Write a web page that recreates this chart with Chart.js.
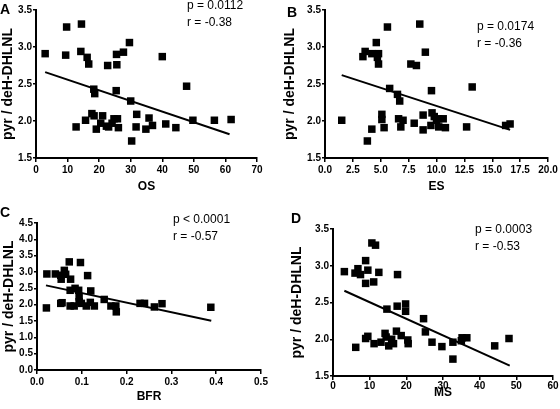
<!DOCTYPE html>
<html>
<head>
<meta charset="utf-8">
<script src="https://cdn.jsdelivr.net/npm/chart.js@4/dist/chart.umd.min.js"></script>
<style>
  html, body { margin: 0; padding: 0; background: #fff; }
  #wrap { position: relative; width: 560px; height: 409px; overflow: hidden; font-family: "Liberation Sans", Arial, sans-serif; }
  canvas { position: absolute; }
</style>
</head>
<body>
<div id="wrap">
  <canvas id="cA" width="280" height="200" style="left:0px;top:0px"></canvas>
  <canvas id="cB" width="280" height="200" style="left:280px;top:0px"></canvas>
  <canvas id="cC" width="280" height="209" style="left:0px;top:200px"></canvas>
  <canvas id="cD" width="280" height="209" style="left:280px;top:200px"></canvas>
</div>
<script>
// ---- Data ----
const yTitle = "pyr / deH-DHLNL";
const panelLetters = ["A", "B", "C", "D"];
const pLabels = ["p = 0.0112", "p = 0.0174", "p < 0.0001", "p = 0.0003"];
const rLabels = ["r = -0.38", "r = -0.36", "r = -0.57", "r = -0.53"];

// Panel A: OS
const osX = [2.9, 9.7, 14.4, 9.4, 14.2, 16.2, 16.7, 22.7, 25.5, 27.7, 29.6, 25.6, 40.0, 47.7, 18.3, 18.6, 25.4, 30.0, 17.7, 18.4, 15.7, 12.7, 19.1, 21.1, 20.5, 22.3, 23.0, 24.7, 24.1, 25.8, 26.1, 31.9, 31.7, 30.3, 35.8, 34.8, 36.9, 41.1, 44.3, 49.7, 56.5, 61.8];
const osY = [2.91, 3.27, 3.31, 2.89, 2.94, 2.86, 2.77, 2.75, 2.90, 2.93, 3.06, 2.76, 2.87, 2.47, 2.43, 2.37, 2.41, 2.27, 2.10, 2.07, 2.01, 1.92, 1.89, 2.07, 1.97, 1.93, 1.92, 2.03, 1.97, 2.03, 1.91, 2.09, 1.92, 1.73, 2.04, 1.89, 1.94, 1.96, 1.91, 2.01, 2.01, 2.02];
const osFitX = [2.9, 61.3];
const osFitY = [2.66, 1.82];
const osTicks = [0, 10, 20, 30, 40, 50, 60, 70];

// Panel B: ES
const esX = [1.5, 3.8, 4.2, 3.4, 3.6, 4.2, 4.6, 4.7, 4.8, 4.8, 5.6, 5.8, 5.1, 5.1, 5.3, 6.5, 6.7, 6.6, 6.8, 7.0, 7.7, 8.2, 8.5, 9.0, 8.0, 8.8, 8.8, 9.55, 9.6, 9.5, 9.8, 10.0, 10.2, 10.2, 10.6, 10.8, 12.7, 13.2, 16.2, 16.6];
const esY = [2.01, 1.73, 1.89, 2.87, 2.94, 2.91, 3.06, 2.86, 2.91, 2.77, 3.27, 2.44, 2.09, 2.02, 1.91, 2.36, 2.27, 2.03, 1.92, 2.01, 2.77, 2.75, 3.31, 2.93, 1.97, 2.08, 1.88, 2.41, 2.11, 1.94, 2.06, 2.01, 1.92, 2.03, 2.03, 1.91, 1.92, 2.46, 1.94, 1.96];
const esFitX = [1.5, 16.6];
const esFitY = [2.62, 1.88];
const esTicks = [0, 2.5, 5, 7.5, 10, 12.5, 15, 17.5, 20];

// Panel C: BFR
const bfrX = [0.021, 0.022, 0.041, 0.053, 0.054, 0.061, 0.064, 0.053, 0.056, 0.072, 0.075, 0.074, 0.074, 0.085, 0.083, 0.093, 0.094, 0.094, 0.097, 0.099, 0.11, 0.113, 0.12, 0.119, 0.128, 0.15, 0.165, 0.176, 0.177, 0.23, 0.24, 0.262, 0.279, 0.388];
const bfrY = [1.90, 2.94, 2.94, 2.90, 2.78, 3.05, 2.93, 2.04, 2.06, 3.31, 2.78, 2.44, 1.96, 2.50, 1.96, 2.44, 2.24, 2.09, 3.29, 2.04, 1.96, 2.89, 2.42, 2.07, 1.96, 2.16, 1.96, 1.96, 1.78, 2.04, 2.04, 1.93, 2.03, 1.92];
const bfrFitX = [0.02, 0.389];
const bfrFitY = [2.59, 1.51];
const bfrTicks = [0, 0.1, 0.2, 0.3, 0.4, 0.5];

// Panel D: MS
const msX = [3.1, 6.2, 6.0, 6.8, 7.5, 8.9, 8.9, 9.5, 8.9, 9.5, 10.6, 11.6, 11.1, 11.2, 12.5, 13.1, 14.2, 14.5, 14.7, 15.2, 16.0, 16.5, 17.3, 17.5, 17.6, 18.6, 19.8, 19.8, 20.4, 20.5, 24.7, 25.2, 27.0, 29.7, 32.7, 32.7, 35.0, 35.2, 36.5, 44.1, 48.0];
const msY = [2.92, 1.89, 2.90, 2.96, 2.88, 2.76, 3.07, 2.94, 2.01, 2.04, 3.31, 3.28, 2.78, 1.94, 2.91, 1.96, 2.08, 2.03, 2.41, 1.91, 2.00, 1.94, 2.11, 2.45, 2.88, 2.05, 2.48, 2.38, 1.99, 1.94, 2.28, 2.10, 1.96, 1.90, 1.96, 1.73, 1.98, 2.02, 2.02, 1.91, 2.01];
const msFitX = [3.1, 48.2];
const msFitY = [2.66, 1.64];
const msTicks = [0, 10, 20, 30, 40, 50, 60];

const yTicksShort = [1.5, 2.0, 2.5, 3.0, 3.5];
const yTicksLong = [0, 0.5, 1.0, 1.5, 2.0, 2.5, 3.0, 3.5, 4.0, 4.5];

// ---- Drawing ----
const FONT = "'Liberation Sans', Arial, sans-serif";

// draw tick labels without a clip rectangle
(function () {
  const LS = Chart.registry.getScale('linear');
  if (LS && LS.prototype) LS.prototype._computeLabelArea = function () { return undefined; };
})();

function pts(xs, ys) { return xs.map((x, i) => ({ x: x, y: ys[i] })); }

function textPlugin(idx, pos) {
  return {
    id: 'panelText' + idx,
    afterDraw(chart) {
      const ctx = chart.ctx;
      ctx.save();
      ctx.fillStyle = '#000';
      ctx.textAlign = 'left';
      ctx.textBaseline = 'alphabetic';
      ctx.font = "bold 14px " + FONT;
      ctx.fillText(panelLetters[idx], pos.lx, pos.ly);
      ctx.font = "12px " + FONT;
      ctx.fillText(pLabels[idx], pos.ax, pos.ay);
      ctx.fillText(rLabels[idx], pos.ax, pos.ay + 17);
      ctx.restore();
    }
  };
}

function makePanel(id, idx, cfg) {
  const tickFont = { family: FONT, size: 10, weight: 'bold' };
  return new Chart(document.getElementById(id), {
    type: 'scatter',
    data: {
      datasets: [
        {
          data: pts(cfg.xs, cfg.ys),
          pointStyle: 'rect',
          pointRadius: 5.3,
          pointBackgroundColor: '#000',
          pointBorderWidth: 0,
          pointBorderColor: '#000'
        },
        {
          data: pts(cfg.fx, cfg.fy),
          showLine: true,
          pointRadius: 0,
          borderColor: '#000',
          borderWidth: 2
        }
      ]
    },
    plugins: [textPlugin(idx, cfg.text)],
    options: {
      responsive: false,
      animation: false,
      devicePixelRatio: 1,
      layout: { padding: cfg.pad },
      plugins: { legend: { display: false }, tooltip: { enabled: false } },
      scales: {
        x: {
          type: 'linear',
          min: cfg.xTicks[0],
          max: cfg.xTicks[cfg.xTicks.length - 1],
          afterBuildTicks: s => { s.ticks = cfg.xTicks.map(v => ({ value: v })); },
          afterFit: s => { s.height = cfg.xH; },
          ticks: {
            callback: v => cfg.xFmt(v),
            font: tickFont, color: '#000', padding: cfg.xTickPad,
            maxRotation: 0, autoSkip: false
          },
          grid: { drawOnChartArea: false, drawTicks: true, tickLength: 4, color: '#000', lineWidth: 1.5 },
          border: { display: true, color: '#000', width: 2 },
          title: {
            display: true, text: cfg.xTitle, color: '#000',
            font: { family: FONT, size: 12, weight: 'bold' },
            padding: { top: 0, bottom: cfg.xTitlePad }
          }
        },
        y: {
          type: 'linear',
          min: cfg.yTicks[0],
          max: cfg.yTicks[cfg.yTicks.length - 1],
          afterBuildTicks: s => { s.ticks = cfg.yTicks.map(v => ({ value: v })); },
          afterFit: s => { s.width = cfg.yW; },
          ticks: {
            callback: v => Number(v).toFixed(1),
            font: tickFont, color: '#000', padding: 1, autoSkip: false
          },
          grid: { drawOnChartArea: false, drawTicks: true, tickLength: 3, color: '#000', lineWidth: 1.5 },
          border: { display: true, color: '#000', width: 2 },
          title: {
            display: true, text: yTitle, color: '#000',
            font: { family: FONT, size: 14, weight: 'bold' },
            padding: { top: cfg.yTitlePad, bottom: 0 }
          }
        }
      }
    }
  });
}

const fmt0 = v => String(Math.round(v));
const fmt1 = v => Number(v).toFixed(1);

makePanel('cA', 0, { xs: osX, ys: osY, fx: osFitX, fy: osFitY, xTicks: osTicks, yTicks: yTicksShort,
  xFmt: fmt0, xTitle: 'OS', pad: { left: 0, top: 10, right: 23, bottom: 0 }, yW: 36, xH: 42, xTitlePad: 6, xTickPad: 2, yTitlePad: 0,
  text: { lx: 0, ly: 14, ax: 187, ay: 9 } });
makePanel('cB', 1, { xs: esX, ys: esY, fx: esFitX, fy: esFitY, xTicks: esTicks, yTicks: yTicksShort,
  xFmt: fmt1, xTitle: 'ES', pad: { left: 0, top: 10, right: 12, bottom: 0 }, yW: 45, xH: 42, xTitlePad: 6, xTickPad: 2, yTitlePad: 2,
  text: { lx: 7, ly: 17, ax: 197, ay: 30 } });
makePanel('cC', 2, { xs: bfrX, ys: bfrY, fx: bfrFitX, fy: bfrFitY, xTicks: bfrTicks, yTicks: yTicksLong,
  xFmt: fmt1, xTitle: 'BFR', pad: { left: 0, top: 23, right: 19, bottom: 0 }, yW: 37, xH: 39, xTitlePad: 5, xTickPad: 2, yTitlePad: 1,
  text: { lx: 0, ly: 17, ax: 173, ay: 23 } });
makePanel('cD', 3, { xs: msX, ys: msY, fx: msFitX, fy: msFitY, xTicks: msTicks, yTicks: yTicksShort,
  xFmt: fmt0, xTitle: 'MS', pad: { left: 0, top: 29, right: 7, bottom: 0 }, yW: 53, xH: 33, xTitlePad: 9, xTickPad: 0, yTitlePad: 9,
  text: { lx: 11, ly: 23, ax: 195, ay: 33 } });

// read back every canvas in full once all charts are drawn (forces rasterisation)
function readBack() {
  ['cA', 'cB', 'cC', 'cD'].forEach(id => {
    const c = document.getElementById(id);
    c.getContext('2d').getImageData(0, 0, c.width, c.height);
  });
}
readBack();
requestAnimationFrame(readBack);
setTimeout(readBack, 30);
</script>
</body>
</html>
